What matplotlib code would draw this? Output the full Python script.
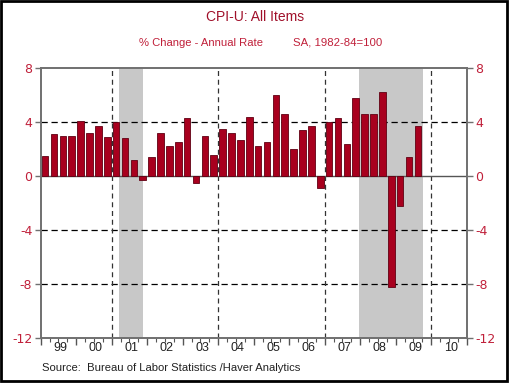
import matplotlib.pyplot as plt
import matplotlib.patches as mpatches
import numpy as np

# Quarterly CPI-U, % change annual rate, 1999Q1 - 2009Q3
cpi = [1.5, 3.1, 3.0, 3.0,
       4.1, 3.2, 3.7, 2.9,
       4.0, 2.8, 1.2, -0.3,
       1.4, 3.2, 2.2, 2.5,
       4.3, -0.5, 3.0, 1.6,
       3.5, 3.2, 2.7, 4.4,
       2.2, 2.5, 6.0, 4.6,
       2.0, 3.4, 3.7, -0.9,
       4.0, 4.3, 2.4, 5.8,
       4.6, 4.6, 6.2, -8.2,
       -2.2, 1.4, 3.7]
start_year = 1999
year_labels = ['99', '00', '01', '02', '03', '04', '05', '06', '07', '08', '09', '10']
recessions = [(2001.21, 2001.87), (2007.96, 2009.77)]
yticks = [8, 4, 0, -4, -8, -12]

red_text = '#C0203A'
bar_red = '#A8001E'

fig = plt.figure(figsize=(5.1, 3.83), dpi=100)
fig.patches.append(mpatches.Rectangle((0.002, 0.004), 0.992, 0.993, transform=fig.transFigure,
                                      fill=False, edgecolor='black', linewidth=2))
ax = fig.add_axes([0.0798, 0.1162, 0.8353, 0.7063])

x = start_year + 0.125 + 0.25 * np.arange(len(cpi))

for a, b in recessions:
    ax.axvspan(a, b, color='#C8C8C8', zorder=0, linewidth=0)

ax.bar(x, cpi, width=0.185, color=bar_red, edgecolor='#600012', linewidth=0.6, zorder=3)

# grid lines
for yv in [4, -4, -8]:
    ax.axhline(yv, color='black', linestyle=(0, (5, 3)), linewidth=0.9, zorder=2)
for xv in [2001, 2004, 2007, 2010]:
    ax.axvline(xv, color='#333333', linestyle=(0, (4, 3)), linewidth=0.9, zorder=2)
ax.axhline(0, color='#555555', linewidth=1.0, zorder=2)

ax.set_xlim(1999, 2011)
ax.set_ylim(-12, 8)

for s in ax.spines.values():
    s.set_color('#707070')
    s.set_linewidth(1.4)

ax.set_yticks(yticks)
ax.set_yticklabels([str(v) for v in yticks])
ax.tick_params(axis='y', which='both', left=True, right=True, labelleft=True, labelright=True,
               direction='out', length=4, width=1, color='#707070', labelcolor=red_text,
               labelsize=9, pad=2)

ax.set_xticks(np.arange(1999, 2012))
ax.set_xticklabels([])
ax.set_xticks(np.arange(1999, 2011, 0.25), minor=True)
ax.tick_params(axis='x', which='major', direction='out', length=5, width=1, color='#555555')
ax.tick_params(axis='x', which='minor', direction='out', length=3, width=0.8, color='#555555')
for i, lab in enumerate(year_labels):
    ax.text(start_year + i + 0.55, -12.25, lab, ha='center', va='top', fontsize=9,
            color='#222222', family='Liberation Sans')

fig.text(0.5, 0.955, 'CPI-U: All Items', ha='center', va='center', fontsize=10,
         color='#A0102A', family='Liberation Sans')
fig.text(0.394, 0.888, '% Change - Annual Rate', ha='center', va='center', fontsize=8.1,
         color=red_text, family='Liberation Sans')
fig.text(0.575, 0.888, 'SA, 1982-84=100', ha='left', va='center', fontsize=8.2,
         color=red_text, family='Liberation Sans')
fig.text(0.082, 0.04, 'Source:  Bureau of Labor Statistics /Haver Analytics', ha='left',
         va='center', fontsize=8.1, color='#222222', family='Liberation Sans')

fig.savefig('out.png', dpi=100)
